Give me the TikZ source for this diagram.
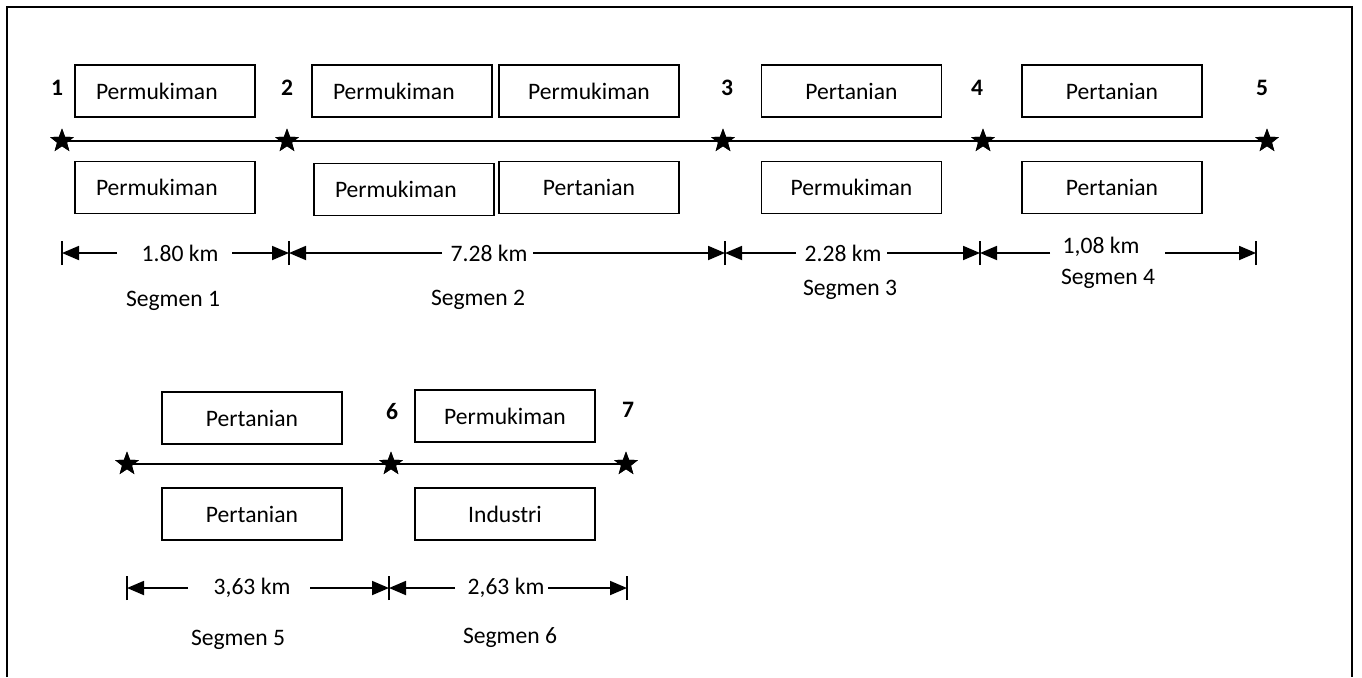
\documentclass[tikz,border=0pt]{standalone}
\usepackage{fontspec}
\setmainfont{Carlito}
\usetikzlibrary{shapes.geometric,arrows.meta}
\begin{document}
\begin{tikzpicture}[x=1pt,y=-1pt, font=\fontsize{23.6}{28}\selectfont,
  box/.style={draw, line width=1.6pt, minimum width=180pt, minimum height=52pt, inner sep=0pt},
  pbox/.style={box, text width=180pt, align=left, execute at begin node={\hspace*{21pt}}},
  pt/.style={star, star points=5, star point ratio=2.4, fill=black, minimum size=25pt, inner sep=0pt},
  num/.style={font=\fontsize{23.6}{28}\selectfont\bfseries},
  road/.style={line width=1.5pt},
  dim/.style={line width=1.8pt, -{Triangle[length=17pt,width=14pt]}},
  tickline/.style={line width=1.1pt},
  lbl/.style={inner sep=0pt}]
\useasboundingbox (0,0) rectangle (1362,677);
\draw[line width=1.8pt] (7,677) -- (7,7) -- (1352,7) -- (1352,677);

% ---------- Row 1 ----------
\node[pt] (s1) at (62,141) {};
\node[pt] (s2) at (287,141) {};
\node[pt] (s3) at (723,141) {};
\node[pt] (s4) at (983,141) {};
\node[pt] (s5) at (1267,141) {};
\draw[road] (s1.center) -- (s2.center) -- (s3.center) -- (s4.center) -- (s5.center);
\node[pt] at (s1) {};
\node[pt] at (s2) {};
\node[pt] at (s3) {};
\node[pt] at (s4) {};
\node[pt] at (s5) {};

\node[num] (n1) at (57,88) {1};
\node[num] (n2) at (287,88) {2};
\node[num] (n3) at (727,88) {3};
\node[num] (n4) at (977,88) {4};
\node[num] (n5) at (1262,88) {5};

\node[pbox] (b1a) at (165,91) {Permukiman};
\node[pbox] (b1b) at (165,187.5) {Permukiman};
\node[pbox] (b2a) at (402,91) {Permukiman};
\node[box] (b2b) at (589,91) {Permukiman};
\node[pbox] (b2c) at (404,189.5) {Permukiman};
\node[box] (b2d) at (589,187.5) {Pertanian};
\node[box] (b3a) at (851.5,91) {Pertanian};
\node[box] (b3b) at (851.5,187.5) {Permukiman};
\node[box] (b4a) at (1112,91) {Pertanian};
\node[box] (b4b) at (1112,187.5) {Pertanian};

% dimension row 1
\coordinate (t1) at (62,253);
\coordinate (t2) at (289,253);
\coordinate (t3) at (725,253);
\coordinate (t4) at (980,253);
\coordinate (t5) at (1256,253);
\foreach \t in {t1,t2,t3,t4,t5} \draw[tickline] ([yshift=-12pt]\t) -- ([yshift=12pt]\t);

\node[lbl] (d1) at (180,253) {1.80 km};
\coordinate (d1l) at (117,253); \coordinate (d1r) at (232,253);
\draw[dim] (d1l) -- (t1);
\draw[dim] (d1r) -- (t2);

\node[lbl] (d2) at (489,253) {7.28 km};
\coordinate (d2l) at (442,253); \coordinate (d2r) at (533,253);
\draw[dim] (d2l) -- (t2);
\draw[dim] (d2r) -- (t3);

\node[lbl] (d3) at (843,253) {2.28 km};
\coordinate (d3l) at (796,253); \coordinate (d3r) at (887,253);
\draw[dim] (d3l) -- (t3);
\draw[dim] (d3r) -- (t4);

\node[lbl] (d4) at (1101,247) {1,08 km};
\coordinate (d4l) at (1050,253); \coordinate (d4r) at (1165,253);
\draw[dim] (d4l) -- (t4);
\draw[dim] (d4r) -- (t5);

\node (g1) at (173,301) {Segmen 1};
\node (g2) at (478,300) {Segmen 2};
\node (g3) at (850,290) {Segmen 3};
\node (g4) at (1108,279) {Segmen 4};

% ---------- Row 2 ----------
\node[pt] (s6a) at (127,464) {};
\node[pt] (s6) at (391,464) {};
\node[pt] (s7) at (626,464) {};
\draw[road] (s6a.center) -- (s6.center) -- (s7.center);
\node[pt] at (s6a) {};
\node[pt] at (s6) {};
\node[pt] at (s7) {};

\node[num] (n6) at (392,412) {6};
\node[num] (n7) at (628,410) {7};

\node[box] (b5a) at (252,418) {Pertanian};
\node[box] (b5b) at (252,514) {Pertanian};
\node[box] (b6a) at (505,416) {Permukiman};
\node[box] (b6b) at (505,514) {Industri};

\coordinate (u1) at (127,588);
\coordinate (u2) at (389,588);
\coordinate (u3) at (627,588);
\foreach \t in {u1,u2,u3} \draw[tickline] ([yshift=-12pt]\t) -- ([yshift=12pt]\t);

\node[lbl] (d5) at (252,588) {3,63 km};
\coordinate (d5l) at (188,588); \coordinate (d5r) at (310,588);
\draw[dim] (d5l) -- (u1);
\draw[dim] (d5r) -- (u2);

\node[lbl] (d6) at (506,588) {2,63 km};
\coordinate (d6l) at (455,588); \coordinate (d6r) at (548,588);
\draw[dim] (d6l) -- (u2);
\draw[dim] (d6r) -- (u3);

\node (g5) at (238,640) {Segmen 5};
\node (g6) at (510,638) {Segmen 6};
\end{tikzpicture}
\end{document}
